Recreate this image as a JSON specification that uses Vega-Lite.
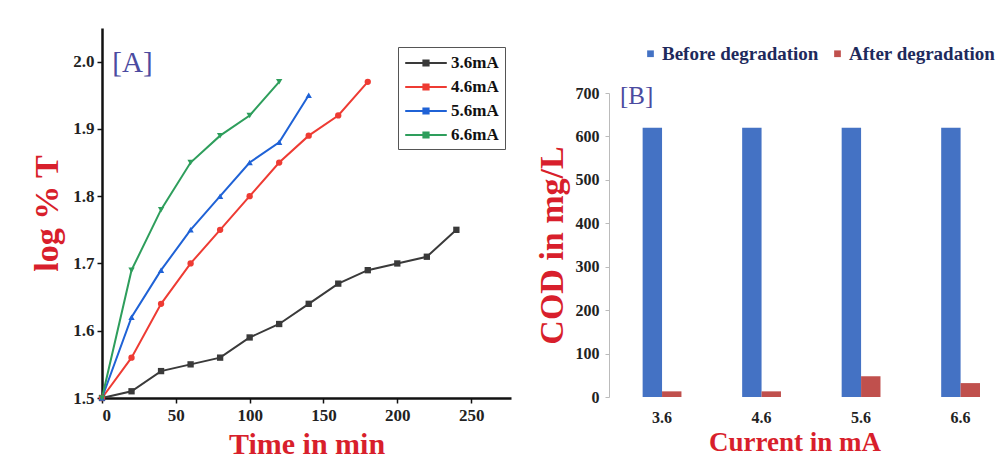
{
  "$schema": "https://vega.github.io/schema/vega-lite/v6.json",
  "background": "white",
  "padding": {"left": 30, "top": 25, "right": 0, "bottom": 0},
  "spacing": 24,
  "resolve": {"scale": {"color": "independent"}, "legend": {"color": "independent"}},
  "config": {"font": "Liberation Serif", "view": {"stroke": null}},
  "datasets": {
    "logT": [
      {"series": "3.6mA", "time": 0, "logT": 1.5},
      {"series": "3.6mA", "time": 20, "logT": 1.51},
      {"series": "3.6mA", "time": 40, "logT": 1.54},
      {"series": "3.6mA", "time": 60, "logT": 1.55},
      {"series": "3.6mA", "time": 80, "logT": 1.56},
      {"series": "3.6mA", "time": 100, "logT": 1.59},
      {"series": "3.6mA", "time": 120, "logT": 1.61},
      {"series": "3.6mA", "time": 140, "logT": 1.64},
      {"series": "3.6mA", "time": 160, "logT": 1.67},
      {"series": "3.6mA", "time": 180, "logT": 1.69},
      {"series": "3.6mA", "time": 200, "logT": 1.70},
      {"series": "3.6mA", "time": 220, "logT": 1.71},
      {"series": "3.6mA", "time": 240, "logT": 1.75},
      {"series": "4.6mA", "time": 0, "logT": 1.5},
      {"series": "4.6mA", "time": 20, "logT": 1.56},
      {"series": "4.6mA", "time": 40, "logT": 1.64},
      {"series": "4.6mA", "time": 60, "logT": 1.70},
      {"series": "4.6mA", "time": 80, "logT": 1.75},
      {"series": "4.6mA", "time": 100, "logT": 1.80},
      {"series": "4.6mA", "time": 120, "logT": 1.85},
      {"series": "4.6mA", "time": 140, "logT": 1.89},
      {"series": "4.6mA", "time": 160, "logT": 1.92},
      {"series": "4.6mA", "time": 180, "logT": 1.97},
      {"series": "5.6mA", "time": 0, "logT": 1.5},
      {"series": "5.6mA", "time": 20, "logT": 1.62},
      {"series": "5.6mA", "time": 40, "logT": 1.69},
      {"series": "5.6mA", "time": 60, "logT": 1.75},
      {"series": "5.6mA", "time": 80, "logT": 1.80},
      {"series": "5.6mA", "time": 100, "logT": 1.85},
      {"series": "5.6mA", "time": 120, "logT": 1.88},
      {"series": "5.6mA", "time": 140, "logT": 1.95},
      {"series": "6.6mA", "time": 0, "logT": 1.5},
      {"series": "6.6mA", "time": 20, "logT": 1.69},
      {"series": "6.6mA", "time": 40, "logT": 1.78},
      {"series": "6.6mA", "time": 60, "logT": 1.85},
      {"series": "6.6mA", "time": 80, "logT": 1.89},
      {"series": "6.6mA", "time": 100, "logT": 1.92},
      {"series": "6.6mA", "time": 120, "logT": 1.97}
    ],
    "cod": [
      {"current": "3.6", "stage": "Before degradation", "cod": 620},
      {"current": "3.6", "stage": "After degradation", "cod": 13},
      {"current": "4.6", "stage": "Before degradation", "cod": 620},
      {"current": "4.6", "stage": "After degradation", "cod": 13},
      {"current": "5.6", "stage": "Before degradation", "cod": 620},
      {"current": "5.6", "stage": "After degradation", "cod": 48},
      {"current": "6.6", "stage": "Before degradation", "cod": 620},
      {"current": "6.6", "stage": "After degradation", "cod": 32}
    ]
  },
  "hconcat": [
    {
      "width": 409,
      "height": 370,
      "layer": [
        {
          "data": {"name": "logT"},
          "mark": {"type": "line", "strokeWidth": 2},
          "encoding": {
            "x": {
              "field": "time", "type": "quantitative",
              "scale": {"domain": [0, 277], "nice": false, "zero": false},
              "axis": {
                "values": [0, 25, 50, 75, 100, 125, 150, 175, 200, 225, 250, 275],
                "labelExpr": "datum.value % 50 === 0 ? datum.label : ''",
                "grid": false, "domainColor": "#111", "domainWidth": 2.5,
                "tickColor": "#111", "tickWidth": 1.5, "tickSize": 5,
                "labelFont": "Liberation Serif", "labelFontWeight": "bold", "labelFontSize": 17, "labelColor": "#222",
                "labelPadding": 4,
                "title": "Time in min", "titleFont": "Liberation Serif", "titleFontWeight": "bold",
                "titleFontSize": 30, "titleColor": "#d81f2c", "titlePadding": 6
              }
            },
            "y": {
              "field": "logT", "type": "quantitative",
              "scale": {"domain": [1.5, 2.05], "nice": false, "zero": false},
              "axis": {
                "values": [1.5, 1.55, 1.6, 1.65, 1.7, 1.75, 1.8, 1.85, 1.9, 1.95, 2.0, 2.05],
                "format": ".1f",
                "labelExpr": "abs(datum.value * 10 - round(datum.value * 10)) < 0.01 ? datum.label : ''",
                "grid": false, "domainColor": "#111", "domainWidth": 2.5,
                "tickColor": "#111", "tickWidth": 1.5, "tickSize": 5,
                "labelFont": "Liberation Serif", "labelFontWeight": "bold", "labelFontSize": 17, "labelColor": "#222",
                "labelPadding": 3,
                "title": "log % T", "titleFont": "Liberation Serif", "titleFontWeight": "bold",
                "titleFontSize": 34, "titleColor": "#d81f2c", "titlePadding": 8
              }
            },
            "color": {
              "field": "series", "type": "nominal",
              "scale": {"domain": ["3.6mA", "4.6mA", "5.6mA", "6.6mA"], "range": ["#3a3a3a", "#ee3b33", "#1f62d6", "#2e9e5c"]},
              "legend": {
                "orient": "none", "legendX": 296, "legendY": 19,
                "title": null, "strokeColor": "#555", "padding": 6,
                "symbolType": "M-2.4,0H2.4M-0.3,-0.3H0.3V0.3H-0.3Z",
                "symbolSize": 300, "symbolStrokeWidth": 2, "symbolOffset": 12,
                "labelFont": "Liberation Serif", "labelFontWeight": "bold", "labelFontSize": 17, "labelColor": "#111",
                "rowPadding": 6, "labelOffset": 15
              }
            }
          }
        },
        {
          "data": {"name": "logT"},
          "mark": {"type": "point", "filled": true, "size": 40, "opacity": 1},
          "encoding": {
            "x": {"field": "time", "type": "quantitative"},
            "y": {"field": "logT", "type": "quantitative"},
            "color": {"field": "series", "type": "nominal"},
            "shape": {
              "field": "series", "type": "nominal",
              "scale": {"domain": ["3.6mA", "4.6mA", "5.6mA", "6.6mA"], "range": ["square", "circle", "triangle-up", "triangle-down"]},
              "legend": null
            }
          }
        },
        {
          "data": {"values": [{}]},
          "mark": {"type": "text", "text": "[A]", "font": "Liberation Serif", "fontSize": 29, "color": "#4b4ba0", "align": "left", "baseline": "middle"},
          "encoding": {
            "x": {"datum": 7, "type": "quantitative"},
            "y": {"datum": 1.998, "type": "quantitative"}
          }
        }
      ]
    },
    {
      "resolve": {"legend": {"color": "independent"}},
      "spacing": 0,
      "vconcat": [
        {
          "width": 371,
          "height": 1,
          "data": {"values": [{}]},
          "mark": {"type": "point", "opacity": 0},
          "encoding": {}
        },
        {
          "width": 371,
          "height": 304,
          "layer": [
            {
              "data": {"name": "cod"},
              "mark": {"type": "bar"},
              "encoding": {
                "x": {
                  "field": "current", "type": "nominal",
                  "scale": {"paddingInner": 0.61, "paddingOuter": 0.169, "align": 1},
                  "axis": {
                    "domain": false, "ticks": false, "labelAngle": 0,
                    "labelFont": "Liberation Serif", "labelFontWeight": "bold", "labelFontSize": 16, "labelColor": "#222",
                    "labelPadding": 12,
                    "title": "Current in mA", "titleFont": "Liberation Serif", "titleFontWeight": "bold",
                    "titleFontSize": 27, "titleColor": "#d81f2c", "titlePadding": 4
                  }
                },
                "xOffset": {
                  "field": "stage", "type": "nominal",
                  "scale": {"domain": ["Before degradation", "After degradation"], "paddingInner": 0, "paddingOuter": 0}
                },
                "y": {
                  "field": "cod", "type": "quantitative",
                  "scale": {"domain": [0, 700], "nice": false},
                  "axis": {
                    "values": [0, 100, 200, 300, 400, 500, 600, 700],
                    "grid": false, "domainColor": "#bbbbbb", "domainWidth": 1,
                    "tickColor": "#bbbbbb", "tickSize": 4,
                    "labelFont": "Liberation Serif", "labelFontWeight": "bold", "labelFontSize": 16, "labelColor": "#222",
                    "labelPadding": 6,
                    "title": "COD in mg/L", "titleFont": "Liberation Serif", "titleFontWeight": "bold",
                    "titleFontSize": 34, "titleColor": "#d81f2c", "titlePadding": 6
                  }
                },
                "color": {
                  "field": "stage", "type": "nominal",
                  "scale": {"domain": ["Before degradation", "After degradation"], "range": ["#4472c4", "#c0504d"]},
                  "legend": {
                    "orient": "none", "legendX": 20, "legendY": -61, "direction": "horizontal",
                    "title": null, "symbolType": "square", "symbolSize": 45, "padding": 12,
                    "labelFont": "Liberation Serif", "labelFontWeight": "bold", "labelFontSize": 19, "labelColor": "#1e2a5c",
                    "columnPadding": 9, "labelOffset": 2
                  }
                }
              }
            },
            {
              "data": {"values": [{}]},
              "mark": {"type": "text", "text": "[B]", "font": "Liberation Serif", "fontSize": 25, "color": "#4b4ba0", "align": "left", "baseline": "middle", "dx": -42},
              "encoding": {
                "x": {"datum": "3.6", "type": "nominal"},
                "y": {"datum": 693, "type": "quantitative"}
              }
            }
          ]
        }
      ]
    }
  ]
}
